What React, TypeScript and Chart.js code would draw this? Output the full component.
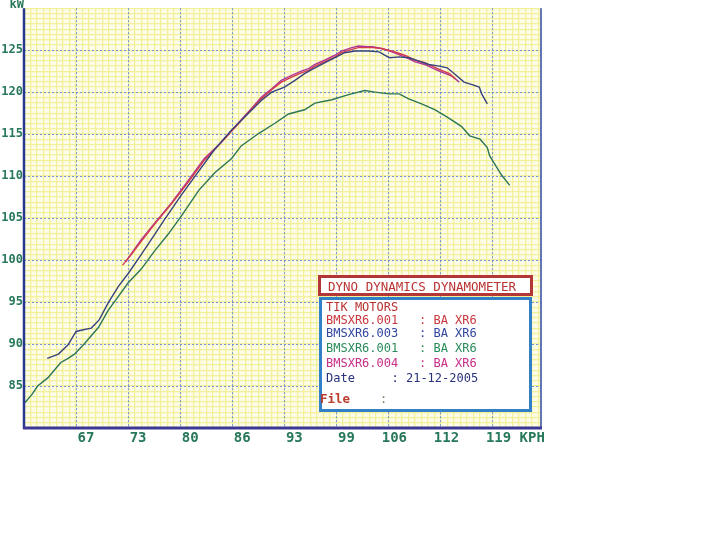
import React, { useEffect, useRef } from 'react';
import { Chart, registerables } from 'chart.js';

Chart.register(...registerables);

// ---- data (speed in KPH, power in kW) ----
const greenRun: [number, number][] = [
  [60.6, 83.0], [61.5, 84.0], [62.2, 85.0], [63.5, 86.0], [64.3, 86.9], [65.1, 87.8],
  [66.0, 88.3], [66.8, 88.8], [68.0, 90.0], [69.0, 91.1], [69.8, 92.0], [71.0, 94.0],
  [72.3, 95.7], [73.5, 97.3], [75.1, 98.9], [76.8, 101.1], [78.5, 103.1], [80.1, 105.2],
  [82.3, 108.3], [84.3, 110.4], [86.4, 112.1], [87.6, 113.6], [89.8, 115.1], [91.8, 116.3],
  [93.5, 117.4], [95.5, 117.9], [96.8, 118.7], [98.9, 119.1], [101.0, 119.7], [103.0, 120.2],
  [104.3, 120.0], [106.0, 119.8], [107.3, 119.8], [108.5, 119.2], [110.1, 118.6], [111.8, 117.9],
  [113.5, 116.9], [115.1, 115.9], [116.1, 114.8], [117.4, 114.4], [118.3, 113.4], [118.6, 112.4],
  [119.5, 111.0], [120.1, 110.1], [121.1, 108.9],
];

const blueRun: [number, number][] = [
  [63.4, 88.3], [64.8, 88.8], [66.0, 89.9], [67.0, 91.5], [67.9, 91.7], [68.9, 91.9],
  [69.9, 92.9], [71.0, 94.9], [72.3, 96.9], [73.5, 98.4], [74.8, 100.2], [76.0, 101.9],
  [78.0, 104.8], [80.1, 107.7], [82.3, 110.6], [84.3, 113.2], [86.4, 115.5], [88.5, 117.5],
  [90.1, 119.0], [91.4, 120.0], [93.0, 120.6], [94.3, 121.4], [95.5, 122.2], [96.8, 122.9],
  [98.0, 123.5], [99.3, 124.1], [100.5, 124.7], [101.8, 124.9], [103.5, 124.9], [104.8, 124.8],
  [105.5, 124.4], [106.1, 124.1], [107.3, 124.2], [108.5, 124.1], [109.8, 123.7], [111.0, 123.3],
  [112.3, 123.1], [113.3, 122.9], [114.3, 122.1], [115.4, 121.2], [116.4, 120.9], [117.3, 120.6],
  [117.6, 119.8], [118.3, 118.6],
];

const redRun: [number, number][] = [
  [72.8, 99.4], [74.0, 100.8], [75.1, 102.2], [76.8, 104.3], [78.9, 106.7], [81.0, 109.3],
  [83.0, 111.9], [85.1, 114.0], [87.3, 116.3], [88.9, 118.0], [90.1, 119.2], [91.4, 120.3],
  [92.6, 121.2], [93.9, 121.8], [95.1, 122.3], [96.0, 122.6], [96.8, 123.1], [98.0, 123.6],
  [99.3, 124.2], [100.1, 124.7], [101.4, 125.1], [102.2, 125.3], [103.3, 125.3], [104.0, 125.3],
  [105.1, 125.2], [106.4, 124.9], [108.0, 124.4], [109.3, 123.8], [110.5, 123.5], [111.6, 123.0],
  [112.6, 122.6], [113.6, 122.2], [114.3, 121.6],
];

const magentaRun: [number, number][] = [
  [73.2, 99.8], [74.0, 100.9], [75.1, 102.4], [76.8, 104.4], [78.9, 106.8], [81.0, 109.5],
  [83.0, 112.1], [85.1, 114.0], [87.3, 116.4], [88.9, 118.1], [90.1, 119.4], [91.4, 120.4],
  [92.6, 121.4], [93.9, 122.0], [95.1, 122.5], [96.0, 122.8], [96.8, 123.3], [98.0, 123.8],
  [99.3, 124.4], [100.1, 124.9], [101.4, 125.3], [102.2, 125.5], [103.3, 125.4], [104.0, 125.4],
  [105.1, 125.2], [106.4, 124.8], [108.0, 124.2], [109.3, 123.6], [110.5, 123.3], [111.6, 122.8],
  [112.6, 122.4], [113.9, 121.9], [114.8, 121.2],
];

const xTickValues = [67, 73.5, 80, 86.5, 93, 99.5, 106, 112.5, 119];
const xTickLabels = [' 67', ' 73', ' 80', ' 86', ' 93', ' 99', '106', '112', '119 KPH'];
const yTickValues = [85, 90, 95, 100, 105, 110, 115, 120, 125];
const yTickLabels = ['85', '90', '95', '100', '105', '110', '115', '120', '125'];

const legendRows = [
  { name: 'BMSXR6.001', value: ': BA XR6', color: 'rgb(200,55,60)' },
  { name: 'BMSXR6.003', value: ': BA XR6', color: 'rgb(50,70,160)' },
  { name: 'BMSXR6.001', value: ': BA XR6', color: 'rgb(40,140,90)' },
  { name: 'BMSXR6.004', value: ': BA XR6', color: 'rgb(200,45,135)' },
];

const X_MIN = 60.5;
const X_MAX = 125;
const Y_MIN = 80;
const Y_MAX = 130;
const X_MINOR = 6.5 / 8;
const Y_MINOR = 5 / 8;

const MONO = '"DejaVu Sans Mono", "Liberation Mono", monospace';
const AXIS_TEXT = 'rgb(40,120,90)';
const MAJOR_GRID = 'rgba(100,135,220,0.9)';
const MINOR_GRID = 'rgb(243,240,155)';

const toPoints = (run: [number, number][]) => run.map(([x, y]) => ({ x, y }));

const minorTicks = (min: number, max: number, step: number) => {
  const out: { value: number }[] = [];
  for (let v = min; v <= max + 1e-6; v += step) out.push({ value: v });
  return out;
};

const framePlugin = {
  id: 'dynoFrame',
  beforeDraw(chart: any) {
    const { ctx, chartArea } = chart;
    const { left, top, right, bottom } = chartArea;
    ctx.save();
    ctx.fillStyle = 'rgb(253,252,232)';
    ctx.fillRect(left, top, right - left, bottom - top);
    ctx.restore();
  },
  afterDatasetsDraw(chart: any) {
    const { ctx, chartArea } = chart;
    const { left, top, right, bottom } = chartArea;
    ctx.save();
    ctx.lineCap = 'butt';
    ctx.strokeStyle = 'rgb(48,72,160)';
    ctx.lineWidth = 1.5;
    ctx.beginPath();
    ctx.moveTo(right, top);
    ctx.lineTo(right, bottom);
    ctx.stroke();
    ctx.strokeStyle = 'rgb(40,55,140)';
    ctx.lineWidth = 2.5;
    ctx.beginPath();
    ctx.moveTo(left, top);
    ctx.lineTo(left, bottom + 1);
    ctx.stroke();
    ctx.strokeStyle = 'rgb(60,55,150)';
    ctx.lineWidth = 3;
    ctx.beginPath();
    ctx.moveTo(left - 1, bottom);
    ctx.lineTo(right + 1, bottom);
    ctx.stroke();
    ctx.restore();
  },
  afterDraw(chart: any) {
    const { ctx, chartArea } = chart;
    ctx.save();
    ctx.fillStyle = AXIS_TEXT;
    ctx.font = `bold 12px ${MONO}`;
    ctx.textAlign = 'right';
    ctx.textBaseline = 'top';
    ctx.fillText('kW', chartArea.left, -1);
    ctx.restore();
  },
};

export default function App() {
  const canvasRef = useRef<HTMLCanvasElement | null>(null);

  useEffect(() => {
    document.body.style.margin = '0';
    const canvas = canvasRef.current;
    if (!canvas) return;
    const line = (label: string, run: [number, number][], color: string) => ({
      label,
      data: toPoints(run),
      borderColor: color,
      backgroundColor: color,
      borderWidth: 1.4,
      pointRadius: 0,
      tension: 0,
      fill: false,
      xAxisID: 'x',
      yAxisID: 'y',
    });
    const chart = new Chart(canvas, {
      type: 'line',
      data: {
        datasets: [
          line('BMSXR6.001 (green)', greenRun, 'rgb(45,118,85)'),
          line('BMSXR6.003', blueRun, 'rgb(55,68,125)'),
          line('BMSXR6.001', redRun, 'rgb(210,60,80)'),
          line('BMSXR6.004', magentaRun, 'rgb(175,55,150)'),
        ],
      },
      options: {
        animation: false,
        responsive: false,
        devicePixelRatio: 1,
        layout: { padding: { left: 0, top: 0, right: 170, bottom: 88 } },
        plugins: { legend: { display: false }, tooltip: { enabled: false } },
        scales: {
          x: {
            type: 'linear',
            position: 'bottom',
            min: X_MIN,
            max: X_MAX,
            afterBuildTicks: (s: any) => {
              s.ticks = xTickValues.map((v) => ({ value: v }));
            },
            afterFit: (s: any) => {
              s.height = 20;
            },
            ticks: {
              autoSkip: false,
              maxRotation: 0,
              minRotation: 0,
              align: 'start',
              labelOffset: -7,
              padding: 2,
              color: AXIS_TEXT,
              font: { family: MONO, size: 14, weight: 'bold' },
              callback: (v: any) => xTickLabels[xTickValues.indexOf(Number(v))] ?? '',
            },
            grid: { color: MAJOR_GRID, lineWidth: 1, drawTicks: false, z: -1 },
            border: { display: false, dash: [2, 2] },
          },
          xm: {
            type: 'linear',
            position: 'bottom',
            min: X_MIN,
            max: X_MAX,
            afterBuildTicks: (s: any) => {
              s.ticks = minorTicks(X_MIN, X_MAX, X_MINOR);
            },
            afterFit: (s: any) => {
              s.height = 0;
            },
            ticks: { display: false },
            grid: { color: MINOR_GRID, lineWidth: 1.3, drawTicks: false, z: -2 },
            border: { display: false },
          },
          y: {
            type: 'linear',
            position: 'left',
            min: Y_MIN,
            max: Y_MAX,
            afterBuildTicks: (s: any) => {
              s.ticks = yTickValues.map((v) => ({ value: v }));
            },
            afterFit: (s: any) => {
              s.width = 24;
            },
            ticks: {
              padding: 1,
              color: AXIS_TEXT,
              font: { family: MONO, size: 12, weight: 'bold' },
              callback: (v: any) => yTickLabels[yTickValues.indexOf(Number(v))] ?? '',
            },
            grid: { color: MAJOR_GRID, lineWidth: 1, drawTicks: false, z: -1 },
            border: { display: false, dash: [2, 2] },
          },
          ym: {
            type: 'linear',
            position: 'left',
            min: Y_MIN,
            max: Y_MAX,
            afterBuildTicks: (s: any) => {
              s.ticks = minorTicks(Y_MIN, Y_MAX, Y_MINOR);
            },
            afterFit: (s: any) => {
              s.width = 0;
            },
            ticks: { display: false },
            grid: { color: MINOR_GRID, lineWidth: 1.3, drawTicks: false, z: -2 },
            border: { display: false },
          },
        },
      },
      plugins: [framePlugin],
    } as any);
    return () => chart.destroy();
  }, []);

  const textBase: React.CSSProperties = {
    position: 'absolute',
    fontFamily: MONO,
    fontSize: '12px',
    lineHeight: '12px',
    whiteSpace: 'pre',
    margin: 0,
  };
  const rowTops = [313.5, 327, 342, 356.5];

  return (
    <div style={{ position: 'absolute', left: 0, top: 0, width: 711, height: 536, background: '#fff' }}>
      <canvas ref={canvasRef} width={711} height={536} style={{ display: 'block' }} />
      <div
        style={{
          position: 'absolute',
          left: 318,
          top: 275,
          width: 215,
          height: 21,
          boxSizing: 'border-box',
          border: '3px solid rgb(180,55,55)',
          background: '#fff',
        }}
      />
      <div style={{ ...textBase, left: 328, top: 280.5, fontSize: '12.5px', color: 'rgb(185,50,50)' }}>
        DYNO DYNAMICS DYNAMOMETER
      </div>
      <div
        style={{
          position: 'absolute',
          left: 319,
          top: 297,
          width: 213,
          height: 115,
          boxSizing: 'border-box',
          border: '3px solid rgb(50,128,200)',
          background: '#fff',
        }}
      />
      <div style={{ ...textBase, left: 326, top: 300.5, color: 'rgb(185,50,50)' }}>TIK MOTORS</div>
      {legendRows.map((r, i) => (
        <React.Fragment key={i}>
          <div style={{ ...textBase, left: 326, top: rowTops[i], color: r.color }}>{r.name}</div>
          <div style={{ ...textBase, left: 419, top: rowTops[i], color: r.color }}>{r.value}</div>
        </React.Fragment>
      ))}
      <div style={{ ...textBase, left: 326, top: 371.5, color: 'rgb(40,50,125)' }}>Date</div>
      <div style={{ ...textBase, left: 391.5, top: 371.5, color: 'rgb(40,50,125)' }}>: 21-12-2005</div>
      <div style={{ ...textBase, left: 320, top: 393, fontWeight: 'bold', fontSize: '12.5px', color: 'rgb(185,60,45)' }}>
        File
      </div>
      <div style={{ ...textBase, left: 380, top: 393, color: 'rgb(130,120,90)' }}>:</div>
    </div>
  );
}
